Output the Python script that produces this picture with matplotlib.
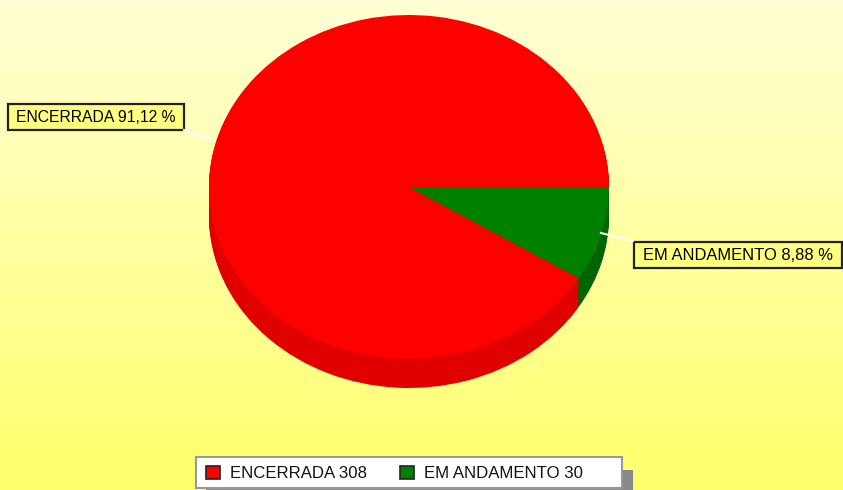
import matplotlib
import numpy as np
matplotlib.use('Agg')
import matplotlib.pyplot as plt
from matplotlib.patches import Rectangle

names = ['ENCERRADA', 'EM ANDAMENTO']
counts = [308, 30]
percents = ['91,12', '8,88']
top_colors = ['#ff0000', '#008000']
side_colors = ['#e00000', '#006400']

W, H = 843, 490
cx, cy, rx, ry = 409, 187, 200, 172
depth = 29

plt.rcParams['font.family'] = ['Liberation Sans', 'DejaVu Sans']

fig = plt.figure(figsize=(W / 100, H / 100), dpi=100)

# background axes works in pixels of the picture
ax = fig.add_axes([0, 0, 1, 1])
grad = np.zeros((H, 1, 3))
grad[:, 0, 0] = 1.0
grad[:, 0, 1] = 1.0
grad[:, 0, 2] = np.linspace(0.84, 0.42, H)
ax.imshow(grad, extent=(0, W, H, 0), aspect='auto', zorder=0)
ax.set_xlim(0, W)
ax.set_ylim(H, 0)
ax.axis('off')

# pie axes on top, stretched so the circle becomes the ellipse
pie_ax = fig.add_axes([0, 0, 1, 1])
pie_ax.patch.set_alpha(0)
for d in range(depth, 0, -1):
    pie_ax.pie(counts, colors=side_colors, startangle=0, radius=1, center=(0, -d / ry))
pie_ax.pie(counts, colors=top_colors, startangle=0, radius=1, center=(0, 0))
pie_ax.set_aspect('auto')
pie_ax.set_xlim(-cx / rx, (W - cx) / rx)
pie_ax.set_ylim((cy - H) / ry, cy / ry)
pie_ax.axis('off')

# overlay for labels and legend
top = fig.add_axes([0, 0, 1, 1])
top.patch.set_alpha(0)
top.set_xlim(0, W)
top.set_ylim(H, 0)
top.axis('off')


def label_box(x0, y0, x1, y1, text, line, size):
    top.plot(line[0], line[1], color='white', lw=1.5)
    top.add_patch(Rectangle((x0, y0), x1 - x0, y1 - y0, facecolor='#ffff80', edgecolor='#222222', lw=1.6))
    top.text((x0 + x1) / 2, (y0 + y1) / 2 + 0.5, text, ha='center', va='center', fontsize=size, color='black')


label_box(8, 104, 184, 130, names[0] + ' ' + percents[0] + ' %', ([184, 212], [130, 139]), 11.3)
label_box(634, 242, 842, 268, names[1] + ' ' + percents[1] + ' %', ([601, 633], [233, 241]), 11.9)

# legend with its grey shadow
top.add_patch(Rectangle((206, 470), 427, 20, facecolor='#888888', edgecolor='none'))
top.add_patch(Rectangle((196, 457), 426, 31, facecolor='white', edgecolor='#999999', lw=1.5))
swatch_x = [206, 400]
text_x = [230, 424]
for i in range(2):
    top.add_patch(Rectangle((swatch_x[i], 466), 14, 13, facecolor=top_colors[i], edgecolor='#222222', lw=1.2))
    top.text(text_x[i], 473, names[i] + ' ' + str(counts[i]), ha='left', va='center', fontsize=12.1, color='#111111')

fig.savefig('out.png', dpi=100)
